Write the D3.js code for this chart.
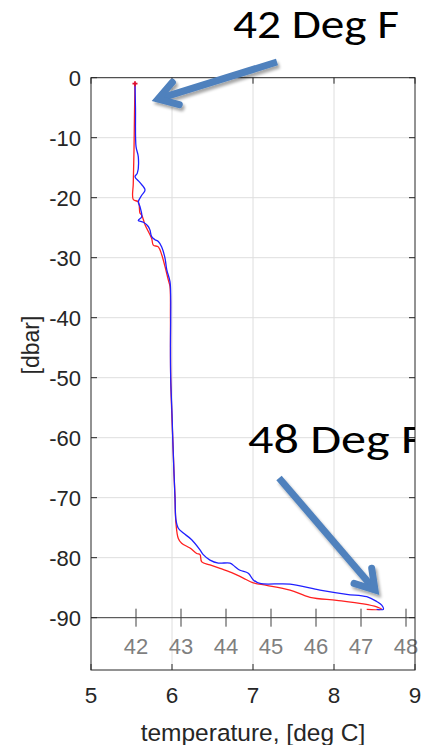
<!DOCTYPE html>
<html><head><meta charset="utf-8">
<script src="https://cdn.jsdelivr.net/npm/d3@7"></script>
<style>html,body{margin:0;padding:0;background:#fff;}svg{display:block;}</style>
</head><body>
<script>
// Data (temperature in deg C, pressure in dbar)
const blueTemp = [5.543,5.549,5.556,5.584,5.572,5.543,5.605,5.667,5.626,5.584,5.605,5.626,5.584,5.646,5.707,5.728,5.749,5.790,5.831,5.873,5.914,5.935,5.975,5.984,5.981,5.984,6.000,6.009,6.025,6.037,6.049,6.078,6.140,6.243,6.346,6.386,6.469,6.572,6.716,6.778,6.840,6.942,7.004,7.086,7.457,7.827,8.157,8.404,8.527,8.589,8.609,8.527];
const bluePres = [-1,-5,-11.5,-13.2,-15.9,-16.5,-17.5,-18.7,-19.6,-20.7,-21.5,-23.2,-23.8,-24.1,-24.8,-25.4,-26.5,-27,-27.3,-28.2,-30.1,-32,-34,-37,-45,-50,-56,-60,-66,-70,-73.7,-75.1,-75.9,-77,-78.7,-79.5,-80.4,-80.9,-80.9,-81.5,-82.1,-82.6,-83.7,-84.3,-84.4,-85.4,-86.1,-86.5,-87.3,-87.9,-88.6,-88.6];
const redTemp = [5.543,5.537,5.531,5.522,5.522,5.584,5.605,5.626,5.667,5.749,5.769,5.831,5.873,5.914,5.954,5.975,5.981,5.984,6.009,6.016,6.025,6.037,6.049,6.078,6.119,6.222,6.305,6.346,6.367,6.469,6.593,6.757,6.880,7.004,7.169,7.457,7.704,8.033,8.362,8.527,8.589,8.404];
const redPres = [-1,-6,-12,-17.6,-20.3,-20.7,-22.6,-22.9,-24.5,-26.8,-27.9,-28.2,-29.5,-31.5,-33.7,-34.8,-40,-50,-60,-62.5,-66,-69.8,-74.3,-76.8,-77.6,-78.4,-79.3,-79.5,-80.7,-81.2,-81.8,-82.6,-83.4,-84.2,-84.6,-85.4,-86.6,-87.1,-87.7,-88.2,-88.6,-88.6];
const xTicks = [5,6,7,8,9];
const yTicks = [0,-10,-20,-30,-40,-50,-60,-70,-80,-90];
const fTicks = [42,43,44,45,46,47,48];
const fAxisDepth = -90;

const W = 421, H = 745;
const L = 91, R = 415, T = 77.7, B = 670;
const svg = d3.select("body").append("svg").attr("width", W).attr("height", H);
const x = d3.scaleLinear().domain([5, 9]).range([L, R]);
const y = d3.scaleLinear().domain([0, -98.72]).range([T, B]);
const f2c = f => (f - 32) * 5 / 9;
const axisCol = "#262626";
const font = "'Liberation Sans', Arial, Helvetica, sans-serif";

const defs = svg.append("defs");
defs.append("clipPath").attr("id","plotclip").append("rect").attr("x",L).attr("y",0).attr("width",R-L).attr("height",H);
const sh = defs.append("filter").attr("id","shadow").attr("x","-20%").attr("y","-20%").attr("width","140%").attr("height","140%");
sh.append("feGaussianBlur").attr("in","SourceAlpha").attr("stdDeviation",1.5).attr("result","b");
sh.append("feOffset").attr("in","b").attr("dx",1.5).attr("dy",2.5).attr("result","o");
sh.append("feComponentTransfer").attr("in","o").attr("result","o2").append("feFuncA").attr("type","linear").attr("slope",0.35);
const mg = sh.append("feMerge"); mg.append("feMergeNode").attr("in","o2"); mg.append("feMergeNode").attr("in","SourceGraphic");

// grid
const grid = svg.append("g").attr("stroke", "#dedede").attr("stroke-width", 1);
grid.selectAll("line.v").data(xTicks.slice(1,-1)).join("line")
  .attr("x1", d => x(d)).attr("x2", d => x(d)).attr("y1", T).attr("y2", B);
grid.selectAll("line.h").data(yTicks.slice(1)).join("line")
  .attr("x1", L).attr("x2", R).attr("y1", d => y(d)).attr("y2", d => y(d));

// lines
const line = d3.line().x(d => x(d[0])).y(d => y(d[1])).curve(d3.curveCatmullRom.alpha(0.5));
const redPts = redTemp.map((t,i)=>[t, redPres[i]]);
const bluePts = blueTemp.map((t,i)=>[t, bluePres[i]]);
svg.append("path").datum(redPts).attr("d", line).attr("fill","none").attr("stroke","#ff2020").attr("stroke-width",1.3).attr("stroke-linejoin","round");
svg.append("path").datum(bluePts).attr("d", line).attr("fill","none").attr("stroke","#2020ff").attr("stroke-width",1.3).attr("stroke-linejoin","round");
// start marker
const sx = x(redTemp[0]), sy = y(redPres[0]);
svg.append("path").attr("d", `M${sx-2.5},${sy}H${sx+2.5}M${sx},${sy-2.5}V${sy+2.5}`).attr("stroke","#e01030").attr("stroke-width",1.8);

// Fahrenheit axis
const fa = svg.append("g");
fa.append("line").attr("x1",L).attr("x2",R).attr("y1",y(fAxisDepth)).attr("y2",y(fAxisDepth)).attr("stroke","#404040").attr("stroke-width",1);
fa.selectAll("line.ft").data(fTicks).join("line")
  .attr("x1", d => x(f2c(d))).attr("x2", d => x(f2c(d)))
  .attr("y1", y(fAxisDepth)-9).attr("y2", y(fAxisDepth)+9).attr("stroke","#404040").attr("stroke-width",1);
fa.selectAll("text").data(fTicks).join("text")
  .attr("x", d => x(f2c(d))).attr("y", y(fAxisDepth)+36)
  .attr("text-anchor","middle").attr("font-family",font).attr("font-size",22).attr("fill","#7f7f7f")
  .text(d => d);

// box + ticks
svg.append("rect").attr("x",L).attr("y",T).attr("width",R-L).attr("height",B-T).attr("fill","none").attr("stroke",axisCol).attr("stroke-width",1);
const tk = svg.append("g").attr("stroke", axisCol).attr("stroke-width",1);
tk.selectAll("line.yl").data(yTicks).join("line").attr("x1",L).attr("x2",L+6).attr("y1",d=>y(d)).attr("y2",d=>y(d));
tk.selectAll("line.yr").data(yTicks).join("line").attr("x1",R-6).attr("x2",R).attr("y1",d=>y(d)).attr("y2",d=>y(d));
tk.selectAll("line.xt").data(xTicks).join("line").attr("x1",d=>x(d)).attr("x2",d=>x(d)).attr("y1",T).attr("y2",T+6);
tk.selectAll("line.xb").data(xTicks).join("line").attr("x1",d=>x(d)).attr("x2",d=>x(d)).attr("y1",B-6).attr("y2",B);

// tick labels
svg.append("g").selectAll("text").data(yTicks).join("text")
  .attr("x", L-10).attr("y", d => y(d)).attr("dy","0.36em").attr("text-anchor","end")
  .attr("font-family",font).attr("font-size",22).attr("fill",axisCol).text(d => d);
svg.append("g").selectAll("text").data(xTicks).join("text")
  .attr("x", d => x(d)).attr("y", 703).attr("text-anchor","middle")
  .attr("font-family",font).attr("font-size",22.5).attr("fill",axisCol).text(d => d);

// axis titles
svg.append("text").attr("x",253).attr("y",741).attr("text-anchor","middle")
  .attr("font-family",font).attr("font-size",24.5).attr("fill",axisCol).text("temperature, [deg C]");
svg.append("text").attr("transform","translate(39,345) rotate(-90)").attr("text-anchor","middle")
  .attr("font-family",font).attr("font-size",23).attr("fill",axisCol).text("[dbar]");

// annotations
const annFont = "Carlito, Calibri, 'Liberation Sans', Arial, sans-serif";
svg.append("text").attr("x",233).attr("y",38).attr("font-family",annFont).attr("font-size",40)
  .attr("textLength",166).attr("lengthAdjust","spacingAndGlyphs").attr("fill","#000").text("42 Deg F");
svg.append("text").attr("x",248).attr("y",453).attr("font-family",annFont).attr("font-size",42)
  .attr("textLength",176).attr("lengthAdjust","spacingAndGlyphs").attr("fill","#000")
  .attr("clip-path","url(#plotclip)").text("48 Deg F");

function arrow(x1,y1,x2,y2){
  const a = Math.atan2(y1-y2, x1-x2), len = 22, sp = 32*Math.PI/180;
  const p1 = [x2+len*Math.cos(a+sp), y2+len*Math.sin(a+sp)];
  const p2 = [x2+len*Math.cos(a-sp), y2+len*Math.sin(a-sp)];
  const g = svg.append("g").attr("filter","url(#shadow)");
  g.append("path").attr("d",`M${x1},${y1}L${x2+3*Math.cos(a)},${y2+3*Math.sin(a)}`)
    .attr("stroke","#4f81bd").attr("stroke-width",7).attr("fill","none");
  g.append("path").attr("d",`M${p1[0]},${p1[1]}L${x2},${y2}L${p2[0]},${p2[1]}`)
    .attr("stroke","#4f81bd").attr("stroke-width",7).attr("fill","none").attr("stroke-linejoin","miter").attr("stroke-linecap","round");
}
arrow(277,62,158,99);
arrow(279,478,375,590);
</script>
</body></html>
